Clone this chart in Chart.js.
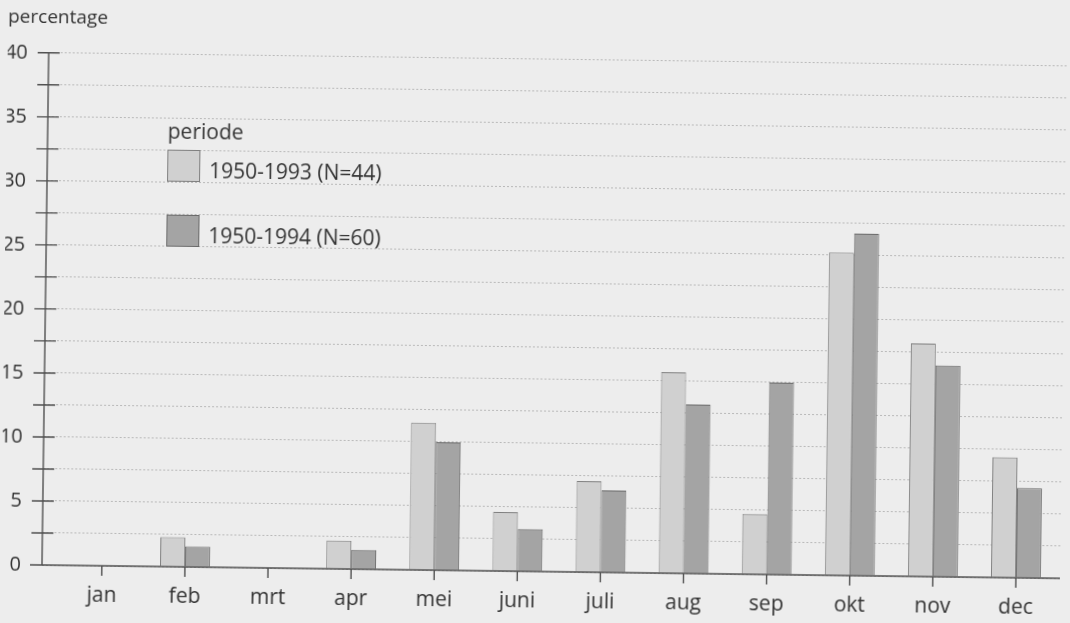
<!DOCTYPE html>
<html>
<head>
<meta charset="utf-8">
<script src="https://cdn.jsdelivr.net/npm/chart.js@4/dist/chart.umd.min.js"></script>
<style>
    html, body { margin: 0; padding: 0; background: #ededed; overflow: hidden; }
    #wrap {
        position: relative; width: 1070px; height: 623px;
        transform: rotate(0.75deg); transform-origin: 42px 565px;
    }
</style>
</head>
<body>
<div id="wrap"><canvas id="chart" width="1070" height="623"></canvas></div>
<script>
const months = ['jan', 'feb', 'mrt', 'apr', 'mei', 'juni', 'juli', 'aug', 'sep', 'okt', 'nov', 'dec'];
const seriesLabels = ['1950-1993 (N=44)', '1950-1994 (N=60)'];
const period1993 = [0, 2.3, 0, 2.2, 11.5, 4.6, 7.1, 15.7, 4.7, 25.2, 18.2, 9.4];
const period1994 = [0, 1.6, 0, 1.5, 10.0, 3.3, 6.4, 13.2, 15.0, 26.7, 16.5, 7.0];
const yTicks = [0, 2.5, 5, 7.5, 10, 12.5, 15, 17.5, 20, 22.5, 25, 27.5, 30, 32.5, 35, 37.5, 40];

const COLORS = {
    light: '#d0d0d0',
    lightBorder: '#7f7f7f',
    dark: '#a4a4a4',
    darkBorder: '#6a6a6a',
    axis: '#505050',
    grid: '#b9b9b9',
    text: '#333333'
};
const FAMILY = '"Open Sans", sans-serif';

const toPoints = values => values.map((v, i) => ({ x: i + 1, y: v }));

// axis lines, short marks crossing the y axis, marks under each month
const axesPlugin = {
    id: 'axes',
    afterDatasetsDraw(chart) {
        const { ctx, chartArea: a, scales: { x, y } } = chart;
        ctx.save();
        ctx.strokeStyle = COLORS.axis;
        ctx.lineWidth = 1.4;
        ctx.beginPath();
        ctx.moveTo(a.left, a.top);
        ctx.lineTo(a.left, a.bottom);
        ctx.moveTo(a.left - 12, a.bottom);
        ctx.lineTo(a.right, a.bottom);
        y.ticks.forEach(t => {
            const py = y.getPixelForValue(t.value);
            ctx.moveTo(a.left - 11, py);
            ctx.lineTo(a.left + 11, py);
        });
        x.ticks.forEach(t => {
            const px = x.getPixelForValue(t.value);
            ctx.moveTo(px, a.bottom);
            ctx.lineTo(px, a.bottom + 10);
        });
        ctx.stroke();
        ctx.restore();
    }
};

// boxed legend inside the plot
const legendPlugin = {
    id: 'boxLegend',
    afterDraw(chart) {
        const { ctx } = chart;
        ctx.save();
        ctx.font = `21px ${FAMILY}`;
        ctx.fillStyle = COLORS.text;
        ctx.textBaseline = 'middle';
        ctx.fillText('periode', 162, 131);
        chart.data.datasets.forEach((ds, i) => {
            const top = 148 + i * 65;
            ctx.fillStyle = ds.backgroundColor;
            ctx.fillRect(162, top, 33, 32);
            ctx.strokeStyle = ds.borderColor;
            ctx.lineWidth = 1;
            ctx.strokeRect(162.5, top + 0.5, 32, 31);
            ctx.fillStyle = COLORS.text;
            ctx.fillText(ds.label, 204, top + 22);
        });
        ctx.restore();
    }
};

new Chart(document.getElementById('chart'), {
    type: 'bar',
    data: {
        datasets: [
            { label: seriesLabels[0], data: toPoints(period1993), backgroundColor: COLORS.light, borderColor: COLORS.lightBorder, borderWidth: 1 },
            { label: seriesLabels[1], data: toPoints(period1994), backgroundColor: COLORS.dark, borderColor: COLORS.darkBorder, borderWidth: 1 }
        ]
    },
    options: {
        responsive: false,
        animation: false,
        layout: { padding: { left: 1, right: 10, bottom: 0 } },
        datasets: { bar: { categoryPercentage: 0.6, barPercentage: 1.0 } },
        plugins: {
            legend: { display: false },
            tooltip: { enabled: false },
            title: {
                display: true, text: 'percentage', align: 'start', color: COLORS.text,
                font: { family: FAMILY, size: 19, weight: 'normal' }, padding: { top: 6, bottom: 24 }
            }
        },
        scales: {
            x: {
                type: 'linear', min: 0.28, max: 12.53, offset: false,
                afterBuildTicks: s => { s.ticks = months.map((m, i) => ({ value: i + 1 })); },
                afterFit: s => { s.height = 58; },
                grid: { display: false },
                border: { display: false },
                ticks: { color: COLORS.text, font: { family: FAMILY, size: 21 }, padding: 9, maxRotation: 0, callback: v => months[v - 1] }
            },
            y: {
                min: 0, max: 40,
                afterBuildTicks: s => { s.ticks = yTicks.map(v => ({ value: v })); },
                afterFit: s => { s.width = 41; },
                grid: { color: COLORS.grid, lineWidth: 1, drawTicks: false },
                border: { display: false, dash: [2, 2] },
                ticks: { color: COLORS.text, font: { family: FAMILY, size: 20 }, padding: 21, callback: v => (v % 5 === 0 ? v : '') }
            }
        }
    },
    plugins: [axesPlugin, legendPlugin]
});
</script>
</body>
</html>
